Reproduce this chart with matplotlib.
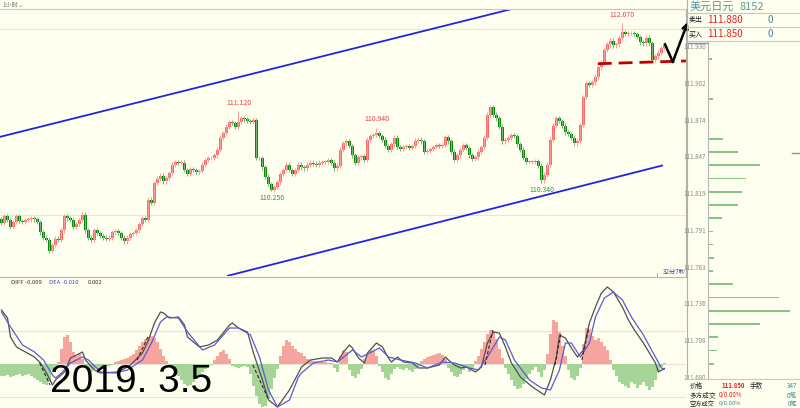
import numpy as np
import matplotlib
matplotlib.use("Agg")
import matplotlib.pyplot as plt
from matplotlib.lines import Line2D

plt.rcParams['font.family'] = ['Noto Sans CJK SC', 'DejaVu Sans']

# ---- hourly USD/JPY closes (one per candle) ----
first_open = 109.95
closes = [
    109.91, 109.98, 109.94, 109.87, 109.92, 109.98, 109.93, 109.92, 109.94, 109.95,
    109.96, 109.95, 109.92, 109.81, 109.75, 109.73, 109.61, 109.67, 109.74, 109.73,
    109.83, 109.98, 109.96, 109.94, 109.87, 109.90, 109.94, 110.00, 109.83, 109.75,
    109.73, 109.83, 109.80, 109.77, 109.75, 109.74, 109.75, 109.81, 109.82, 109.80,
    109.75, 109.71, 109.75, 109.79, 109.80, 109.83, 109.90, 109.96, 109.94, 110.16,
    110.13, 110.34, 110.39, 110.42, 110.36, 110.40, 110.45, 110.54, 110.57, 110.56,
    110.56, 110.48, 110.44, 110.49, 110.48, 110.46, 110.47, 110.54, 110.59, 110.61,
    110.61, 110.64, 110.70, 110.83, 110.88, 110.95, 111.00, 110.99, 110.95, 111.00,
    111.04, 111.03, 111.01, 111.00, 111.02, 110.61, 110.61, 110.51, 110.41, 110.33,
    110.27, 110.30, 110.35, 110.44, 110.48, 110.54, 110.48, 110.44, 110.48, 110.54,
    110.51, 110.50, 110.54, 110.56, 110.55, 110.54, 110.56, 110.57, 110.57, 110.59,
    110.56, 110.50, 110.53, 110.70, 110.77, 110.79, 110.74, 110.64, 110.56, 110.62,
    110.63, 110.59, 110.81, 110.85, 110.86, 110.88, 110.85, 110.81, 110.74, 110.70,
    110.76, 110.83, 110.73, 110.71, 110.73, 110.74, 110.72, 110.74, 110.80, 110.81,
    110.79, 110.68, 110.69, 110.71, 110.73, 110.75, 110.74, 110.75, 110.84, 110.79,
    110.68, 110.59, 110.64, 110.70, 110.75, 110.72, 110.64, 110.60, 110.62, 110.68,
    110.73, 110.83, 111.08, 111.16, 111.08, 111.04, 110.95, 110.79, 110.81, 110.83,
    110.86, 110.85, 110.76, 110.70, 110.61, 110.57, 110.57, 110.57, 110.58, 110.53,
    110.37, 110.43, 110.54, 110.81, 110.96, 111.04, 111.01, 110.96, 110.89, 110.87,
    110.83, 110.77, 110.80, 110.97, 111.27, 111.42, 111.40, 111.43, 111.49, 111.59,
    111.64, 111.78, 111.84, 111.88, 111.83, 111.84, 111.91, 111.97, 111.95, 111.96,
    111.96, 111.95, 111.92, 111.86, 111.85, 111.91, 111.85, 111.67, 111.71, 111.75,
    111.80, 111.83,
]

# marked highs / lows (candle index, price, is_high)
marks_idx = [79, 90, 125, 180, 207]
marks_price = [111.12, 110.25, 110.94, 110.34, 112.07]
marks_high = [True, False, True, False, True]

# channel / pattern lines drawn on the price chart (candle index, price)
upper_ch_x, upper_ch_y = [-0.5, 171.2], [110.84, 112.23]
lower_ch_x, lower_ch_y = [75.5, 220.2], [109.34, 110.53]
neck_x, neck_y = [198.8, 228.2], [111.63, 111.66]
arrow_x, arrow_y = [221.2, 223.8, 228.8], [111.84, 111.65, 112.08]

# ---- MACD ----
macd_hist = [
    -0.024, -0.024, -0.022, -0.026, -0.024, -0.022, -0.020, -0.024, -0.022, -0.020,
    -0.024, -0.028, -0.032, -0.036, -0.040, -0.042, -0.036,
    -0.012, -0.004, 0.004,
    0.030, 0.054, 0.058, 0.044, 0.024,
    0.016, 0.020, 0.010,
    -0.008, -0.012, -0.016, -0.010, -0.008, -0.006, -0.006, -0.004, -0.004, -0.002,
    0.004, 0.006, 0.008, 0.010, 0.012, 0.016, 0.020, 0.028, 0.036, 0.044, 0.050, 0.054, 0.056, 0.052, 0.044,
    0.030, 0.016, 0.006,
    -0.004, -0.010, -0.016, -0.024, -0.032, -0.040, -0.044, -0.042, -0.036, -0.030, -0.024, -0.016, -0.010, -0.006, -0.002,
    0.008, 0.016, 0.024, 0.028, 0.020, 0.010,
    -0.004, -0.006, -0.008, -0.006, -0.004, -0.006,
    -0.020, -0.044, -0.064, -0.080, -0.086, -0.084, -0.070, -0.050, -0.028, -0.010,
    0.016, 0.036, 0.048, 0.044, 0.036, 0.030, 0.024,
    0.022, 0.016, 0.010, 0.008, 0.006, 0.006, 0.004, 0.004, 0.004, 0.002, 0.002,
    -0.008, -0.016,
    0.016, 0.028, 0.024,
    -0.012, -0.024, -0.028, -0.020, -0.010,
    0.010, 0.020, 0.028, 0.026, 0.016,
    -0.004, -0.016, -0.028, -0.032, -0.020, -0.010,
    -0.006, -0.010, -0.012, -0.008, -0.012, -0.016, -0.010, -0.006,
    0.006, 0.010, 0.014, 0.016, 0.018, 0.020, 0.022, 0.018, 0.010,
    -0.008, -0.016, -0.024, -0.026, -0.020, -0.012, -0.008, -0.016, -0.010,
    0.006, 0.016, 0.030, 0.044, 0.060, 0.068, 0.064, 0.050, 0.030, 0.012,
    -0.008, -0.020, -0.032, -0.044, -0.050, -0.048, -0.040, -0.030, -0.020, -0.012, -0.006, -0.016, -0.026, -0.012,
    0.020, 0.060, 0.088, 0.084, 0.064, 0.036, 0.016,
    -0.012, -0.028, -0.032, -0.024, -0.008,
    0.040, 0.072, 0.070, 0.056, 0.048, 0.052, 0.044, 0.036, 0.028, 0.008,
    -0.012, -0.024, -0.036, -0.040, -0.044, -0.048, -0.036, -0.040, -0.048, -0.042, -0.036, -0.044, -0.052, -0.046, -0.032, -0.016, -0.006,
    0.002,
]
diff_idx = [0, 2, 3, 5, 8, 11, 13, 15, 17, 18, 21, 23, 27, 28, 31, 33, 39, 43, 47, 49,
            51, 53, 54, 56, 59, 61, 62, 66, 69, 72, 76, 77, 79, 82, 84, 87, 89, 92, 96, 99,
            100, 103, 107, 110, 112, 114, 116, 117, 119, 121, 122, 125, 127, 129, 130, 132, 134, 137, 139, 142,
            146, 148, 149, 151, 153, 155, 158, 160, 162, 164, 166, 168, 170, 173, 177, 180, 181, 183, 185, 186,
            188, 190, 192, 194, 196, 198, 200, 202, 204, 207, 209, 211, 214, 218, 219, 221]
diff_val = [0.108, 0.092, 0.054, 0.034, 0.024, 0.014, 0.002, -0.018, -0.042, -0.032,
            -0.016, 0.012, 0.024, 0.008, -0.012, -0.018, -0.016, -0.002, 0.022, 0.048,
            0.082, 0.104, 0.102, 0.092, 0.094, 0.078, 0.054, 0.034, 0.038, 0.048,
            0.078, 0.082, 0.072, 0.064, 0.022, -0.032, -0.072, -0.086, -0.052, -0.018,
            -0.006, 0.008, 0.012, 0.012, 0.004, 0.024, 0.038, 0.032, 0.012, 0.002,
            0.022, 0.042, 0.034, 0.012, 0.004, 0.014, 0.004, 0.002, -0.008, -0.008,
            -0.002, 0.014, 0.008, -0.002, -0.008, -0.006, -0.016, -0.006, 0.042, 0.064,
            0.062, 0.034, 0.002, -0.026, -0.046, -0.058, -0.062, -0.032, 0.014, 0.058,
            0.052, 0.032, 0.014, 0.028, 0.082, 0.114, 0.142, 0.154, 0.144, 0.114,
            0.088, 0.068, 0.042, 0.002, -0.016, -0.009]
dea_idx = [0, 3, 7, 11, 14, 17, 18, 20, 23, 27, 29, 33, 38, 42, 47, 50, 53, 55, 59, 62,
           67, 71, 76, 79, 83, 86, 89, 92, 96, 99, 100, 104, 109, 112, 117, 120, 126, 129, 133, 138,
           142, 147, 151, 156, 159, 162, 166, 168, 171, 176, 180, 183, 186, 188, 190, 193, 196, 198, 201, 204,
           207, 210, 214, 218, 220, 221]
dea_val = [0.104, 0.074, 0.038, 0.024, 0.008, -0.022, -0.028, -0.018, 0.002, 0.014,
           0.008, -0.016, -0.018, -0.012, 0.008, 0.042, 0.084, 0.094, 0.092, 0.064,
           0.028, 0.038, 0.072, 0.072, 0.058, 0.014, -0.052, -0.086, -0.072, -0.026,
           -0.018, 0.002, 0.008, 0.004, 0.028, 0.014, 0.032, 0.014, 0.008, 0.002,
           -0.008, 0.004, 0.002, -0.008, -0.012, 0.014, 0.054, 0.048, 0.008, -0.032,
           -0.048, -0.052, -0.012, 0.042, 0.042, 0.014, 0.042, 0.094, 0.132, 0.144,
           0.128, 0.094, 0.058, 0.014, -0.008, -0.010]
cross_x0 = [12.7, 45.2, 83.8, 161.2, 184.5, 193.5]
cross_y0 = [0.002, 0.008, -0.002, -0.002, -0.002, 0.008]
cross_x1 = [16.2, 48.8, 88.8, 163.8, 186.5, 195.8]
cross_y1 = [-0.042, 0.054, -0.068, 0.068, 0.062, 0.072]

# ---- right-hand price distribution ----
side_ticks = [111.930, 111.902, 111.874, 111.847, 111.819, 111.791, 111.763, 111.736, 111.708, 111.680]
side_prices = [111.92, 111.89, 111.86, 111.85, 111.84, 111.83, 111.82, 111.81, 111.80, 111.79,
               111.78, 111.77, 111.76, 111.75, 111.74, 111.73, 111.72, 111.71, 111.70, 111.69]
side_volumes = [4, 5, 15, 30, 52, 38, 34, 30, 14, 5, 5, 6, 5, 25, 71, 82, 52, 10, 9, 6]

BG = '#fffff0'
UP, DOWN = '#ff6a6a', '#0a8a0a'
W, H = 800, 408


def box(x0, y0, x1, y1):
    return [x0 / W, 1 - y1 / H, (x1 - x0) / W, (y1 - y0) / H]


def fline(x0, y0, x1, y1, **kw):
    fig.add_artist(Line2D([x0 / W, x1 / W], [1 - y0 / H, 1 - y1 / H], **kw))


def ftext(x, y, s, **kw):
    fig.text(x / W, 1 - y / H, s, **kw)


fig = plt.figure(figsize=(8, 4.08), dpi=100, facecolor=BG)

# ---------- price chart ----------
ax = fig.add_axes(box(0, 9, 686, 276))
ax.set_facecolor(BG)
c = np.array(closes)
o = np.concatenate([[first_open], c[:-1]])
x = np.arange(len(c))
hi = np.maximum(o, c) + 0.025
lo = np.minimum(o, c) - 0.025
for i, p, h in zip(marks_idx, marks_price, marks_high):
    if h:
        hi[i] = p
    else:
        lo[i] = p
up = c >= o
ax.axhline(110.0, color='#e6e6d8', lw=0.8, zorder=0)
ax.axhline(112.0, color='#e6e6d8', lw=0.8, zorder=0)
ax.vlines(x, lo, hi, colors=np.where(up, '#ff9a9a', '#78b878'), lw=0.7)
bot = np.minimum(o, c)
hgt = np.maximum(np.abs(c - o), 0.006)
ax.bar(x[up], hgt[up], bottom=bot[up], width=0.75, color=UP, lw=0)
ax.bar(x[~up], hgt[~up], bottom=bot[~up], width=0.75, color=DOWN, lw=0)

for i, p, h in zip(marks_idx, marks_price, marks_high):
    if h:
        ax.annotate(f'{p:.3f}', (i, p), xytext=(0, 3), textcoords='offset points',
                    ha='center', va='bottom', fontsize=5, color='#e84040')
    else:
        ax.annotate(f'{p:.3f}', (i, p), xytext=(0, -2), textcoords='offset points',
                    ha='center', va='top', fontsize=5, color='#2f8f4f')

ax.plot(upper_ch_x, upper_ch_y, color='#2222ee', lw=1.3)
ax.plot(lower_ch_x, lower_ch_y, color='#2222ee', lw=1.3)
ax.plot(neck_x, neck_y, color='#c00000', lw=2, dashes=(5, 2.5))
ax.plot(arrow_x[:2], arrow_y[:2], color='k', lw=1.8, clip_on=False)
ax.annotate('', xy=(arrow_x[2], arrow_y[2]), xytext=(arrow_x[1], arrow_y[1]),
            arrowprops=dict(arrowstyle='->', color='k', lw=1.8, shrinkA=0, shrinkB=0,
                            mutation_scale=9), annotation_clip=False)
ax.set_xlim(-0.5, 228.2)
ax.set_ylim(109.337, 112.221)
ax.set_xticks([])
ax.set_yticks([])
for s in ['left', 'bottom']:
    ax.spines[s].set_visible(False)
ax.spines['top'].set_color('#c8c8c0')
ax.spines['right'].set_color('#b0b0a8')
ax.spines['top'].set_linewidth(0.8)
ax.spines['right'].set_linewidth(0.8)

# ---------- MACD ----------
am = fig.add_axes(box(0, 277, 686, 408))
am.set_facecolor(BG)
hist = np.array(macd_hist)
am.bar(np.arange(len(hist)), hist, width=0.8, lw=0,
       color=np.where(hist >= 0, '#f5a59d', '#a5d497'))
for yv in (0.066, 0.0, -0.066):
    am.axhline(yv, color='#e4e4d8', lw=0.8, zorder=0)
am.plot(diff_idx, diff_val, color='#505050', lw=0.9)
am.plot(dea_idx, dea_val, color='#5a5ad8', lw=0.9)
for a0, b0, a1, b1 in zip(cross_x0, cross_y0, cross_x1, cross_y1):
    am.plot([a0, a1], [b0, b1], color='#3a2020', lw=0.8, dashes=(3, 2))
am.set_xlim(-0.5, 228.2)
am.set_ylim(-0.088, 0.174)
am.set_xticks([])
am.set_yticks([])
for s in ['left', 'bottom', 'right']:
    am.spines[s].set_visible(False)
am.spines['top'].set_color('#b8b8b0')
am.spines['top'].set_linewidth(0.8)

ftext(11, 282, 'DIFF -0.009', fontsize=4.3, color='#333333', va='center')
ftext(49, 282, 'DEA -0.010', fontsize=4.3, color='#4444aa', va='center')
ftext(88, 282, '0.002', fontsize=4.3, color='#333333', va='center')
ftext(50, 392, '2019. 3.5', fontsize=28, color='black', va='baseline',
      family=['Liberation Sans', 'DejaVu Sans'])

ftext(2, 4.5, '1小时⌄', fontsize=4.5, color='#777777', va='center')
ftext(686, 272, '32分7秒', fontsize=4.5, color='#3a3ab0', va='center', ha='right')
fline(657, 273, 657, 276, color='#999999', lw=0.6)

# ---------- right-hand panel ----------
asd = fig.add_axes(box(708, 41, 800, 379))
asd.set_facecolor(BG)
asd.barh(side_prices, side_volumes, height=0.0013, color='#86c486', lw=0)
asd.set_ylim(111.6785, 111.9338)
asd.set_xlim(0, 92)
asd.set_yticks(side_ticks)
asd.set_yticklabels([f'{t:.3f}' for t in side_ticks])
asd.tick_params(axis='y', length=0, pad=1.5, labelsize=4.5, labelcolor='#8a8a8a')
asd.set_xticks([])
for s in ['top', 'right', 'bottom']:
    asd.spines[s].set_visible(False)
asd.spines['left'].set_color('#b8b8b0')
asd.spines['left'].set_linewidth(0.8)

fline(687, 0, 687, 379, color='#b0b0a8', lw=0.8)
for yy in (13, 27, 41, 379):
    fline(687, yy, 800, yy, color='#c8c8c0', lw=0.8)
fline(688, 43, 707, 43, color='#8a8ad0', lw=1)
fline(792, 153, 800, 153, color='#8a8ad0', lw=1)

ftext(690, 6.5, '美元日元', fontsize=8, color='#5a9a9a', va='center')
ftext(740, 6.5, '8152', fontsize=8, color='#5a9a9a', va='center')
ftext(689, 20, '卖出', fontsize=5, color='#222222', va='center')
ftext(707, 20, '111.880', fontsize=7, color='#e02020', va='center')
ftext(767, 20, '0', fontsize=7, color='#3c8c8c', va='center')
ftext(689, 34, '买入', fontsize=5, color='#222222', va='center')
ftext(707, 34, '111.850', fontsize=7, color='#e02020', va='center')
ftext(767, 34, '0', fontsize=7, color='#3c8c8c', va='center')

ftext(690, 386, '价格', fontsize=4.8, color='#222222', va='center')
ftext(721, 386, '111.850', fontsize=4.3, color='#e02020', va='center', fontweight='bold')
ftext(750, 386, '手数', fontsize=4.8, color='#222222', va='center')
ftext(797, 386, '347', fontsize=4.5, color='#3c8c8c', va='center', ha='right')
ftext(690, 395.5, '多方成交', fontsize=4.8, color='#222222', va='center')
ftext(719, 395.5, '0/0.00%', fontsize=4.5, color='#e02020', va='center')
ftext(797, 395.5, '0笔', fontsize=4.8, color='#3c8c8c', va='center', ha='right')
ftext(690, 404, '空方成交', fontsize=4.5, color='#222222', va='center')
ftext(719, 404, '0/0.00%', fontsize=4.3, color='#3c8c8c', va='center')
ftext(797, 404, '0笔', fontsize=4.5, color='#3c8c8c', va='center', ha='right')

fig.savefig('out.png', dpi=100, facecolor=BG)
